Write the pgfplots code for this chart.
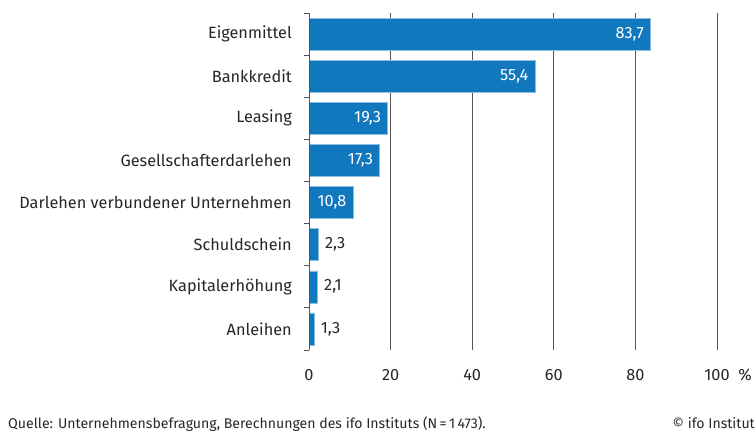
\documentclass[border=0pt]{standalone}
\usepackage{fontspec}
\setmainfont{Fira Sans}
\usepackage{pgfplots}
\pgfplotsset{compat=1.18}
\definecolor{ifoblue}{RGB}{18,120,190}
\definecolor{ifoedge}{RGB}{140,190,225}
\definecolor{gridgray}{RGB}{85,85,85}
\newcommand{\lblfont}{\fontsize{16.3bp}{19bp}\selectfont}

\begin{document}
\begin{tikzpicture}
\useasboundingbox (0,0) rectangle (755bp,431bp);
\begin{axis}[
    at={(309bp,81bp)}, anchor=south west,
    scale only axis,
    width=408bp, height=337bp,
    xbar, bar width=0.76,
    xmin=0, xmax=100,
    ymin=-0.5, ymax=7.5,
    xtick={0,20,40,60,80,100},
    ytick={0,1,2,3,4,5,6,7},
    yticklabels={Anleihen,Kapitalerhöhung,Schuldschein,Darlehen verbundener Unternehmen,Gesellschafterdarlehen,Leasing,Bankkredit,Eigenmittel},
    minor ytick={-0.5,0.5,1.5,2.5,3.5,4.5,5.5,6.5,7.5},
    ytick pos=left,
    major tick length=0pt,
    minor tick length=5bp,
    tick align=outside,
    tick style={gridgray, line width=0.8pt},
    xmajorgrids,
    major grid style={gridgray, line width=0.9pt},
    axis line style={draw=none},
    yticklabel style={anchor=east, inner sep=0pt, xshift=-17bp, font=\lblfont, text=black!85},
    xticklabel style={anchor=north, inner sep=0pt, yshift=-19bp, font=\lblfont, text=black!85,
        /pgf/number format/assume math mode=true},
    nodes near coords,
    every node near coord/.append style={font=\lblfont,
        /pgf/number format/assume math mode=true,
        /pgf/number format/use comma,
        /pgf/number format/fixed,
        /pgf/number format/fixed zerofill,
        /pgf/number format/precision=1},
    clip=false,
]
\addplot[bar shift=0pt, fill=ifoblue, draw=ifoedge, line width=0.6pt,
    every node near coord/.append style={anchor=east, xshift=-3bp, text=white}]
    coordinates {(83.7,7) (55.4,6) (19.3,5) (17.3,4) (10.8,3)};
\addplot[bar shift=0pt, fill=ifoblue, draw=ifoedge, line width=0.6pt,
    every node near coord/.append style={anchor=west, xshift=3bp, text=black!85}]
    coordinates {(2.3,2) (2.1,1) (1.3,0)};
\draw[gridgray, line width=0.9pt] (axis cs:0,-0.5) -- (axis cs:0,7.5);
\end{axis}
\node[anchor=center, inner sep=0pt, font=\lblfont, text=black!85] at (745bp,56bp) {\%};
\node[anchor=base west, inner sep=0pt, font=\fontsize{14.1bp}{16bp}\selectfont, text=black!85] at (8bp,3bp) {Quelle: Unternehmensbefragung, Berechnungen des ifo Instituts (N\,=\,1\,473).};
\node[anchor=base east, inner sep=0pt, font=\fontsize{14.1bp}{16bp}\selectfont, text=black!85] at (755bp,3bp) {© ifo Institut};
\end{tikzpicture}
\end{document}
